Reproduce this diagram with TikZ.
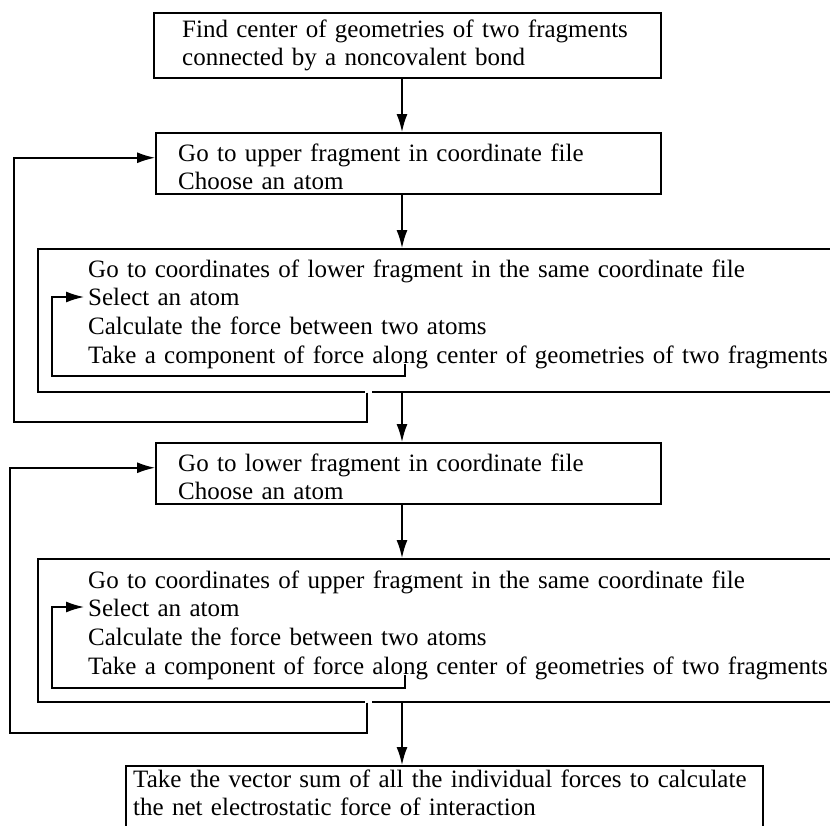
\documentclass[tikz,border=0pt]{standalone}
\usepackage{fontspec}
\setmainfont{Liberation Serif}
\usetikzlibrary{arrows.meta}
\begin{document}
\begin{tikzpicture}[x=1pt,y=-1pt,
  box/.style={draw, line width=1.5pt, rectangle, anchor=north west, inner sep=0pt},
  txt/.style={anchor=base west, inner sep=0pt, align=left, text width=1200pt,
              font=\fontsize{25}{28.8}\selectfont},
  arr/.style={line width=1.5pt, -{Latex[length=18pt,width=11pt]}},
  gap/.style={white, line width=3pt}]
\useasboundingbox (0,0) rectangle (830,825);
% boxes
\node[box, minimum width=507, minimum height=65]  (b1) at (153,12) {};
\node[box, minimum width=505, minimum height=61]  (b2) at (155,132) {};
\node[box, minimum width=820, minimum height=143] (b3) at (37,248) {};
\node[box, minimum width=505, minimum height=61]  (b4) at (155,442) {};
\node[box, minimum width=820, minimum height=143] (b5) at (37,558) {};
\node[box, minimum width=637, minimum height=90]  (b6) at (125,765) {};
% texts
\node[txt] (t1) at (182,37) {Find center of geometries of two fragments\\connected by a noncovalent bond};
\node[txt] (t2) at (178,161) {Go to upper fragment in coordinate file\\Choose an atom};
\node[txt] (t3) at (88,277) {Go to coordinates of lower fragment in the same coordinate file\\Select an atom\\Calculate the force between two atoms\\Take a component of force along center of geometries of two fragments};
\node[txt] (t4) at (178,471) {Go to lower fragment in coordinate file\\Choose an atom};
\node[txt] (t5) at (88,588) {Go to coordinates of upper fragment in the same coordinate file\\Select an atom\\Calculate the force between two atoms\\Take a component of force along center of geometries of two fragments};
\node[txt] (t6) at (133,787) {Take the vector sum of all the individual forces to calculate\\the net electrostatic force of interaction};
% helper coordinates
\coordinate (ax) at (402,0);
\coordinate (lx) at (367,0);
\coordinate (o1) at (14,422);
\coordinate (o2) at (10,733);
\coordinate (i1s) at (405,364);
\coordinate (i1c) at (52,376);
\coordinate (i1e) at (84,297);
\coordinate (i2s) at (405,675);
\coordinate (i2c) at (52,688);
\coordinate (i2e) at (84,607);
% gaps in box bottoms
\draw[gap] (364.5,391) -- (372,391);
\draw[gap] (364.5,701) -- (372,701);
% main flow
\draw[arr] (b1.south -| ax) -- (b2.north -| ax);
\draw[arr] (b2.south -| ax) -- (b3.north -| ax);
\draw[arr] (b3.south -| ax) -- (b4.north -| ax);
\draw[arr] (b4.south -| ax) -- (b5.north -| ax);
\draw[arr] (b5.south -| ax) -- (b6.north -| ax);
% outer loops
\draw[arr] (b3.south -| lx) |- (o1) |- ([yshift=5.5pt]b2.west);
\draw[arr] (b5.south -| lx) |- (o2) |- ([yshift=5.5pt]b4.west);
% inner loops
\draw[arr] (i1s) |- (i1c) |- (i1e);
\draw[arr] (i2s) |- (i2c) |- (i2e);
\end{tikzpicture}
\end{document}
